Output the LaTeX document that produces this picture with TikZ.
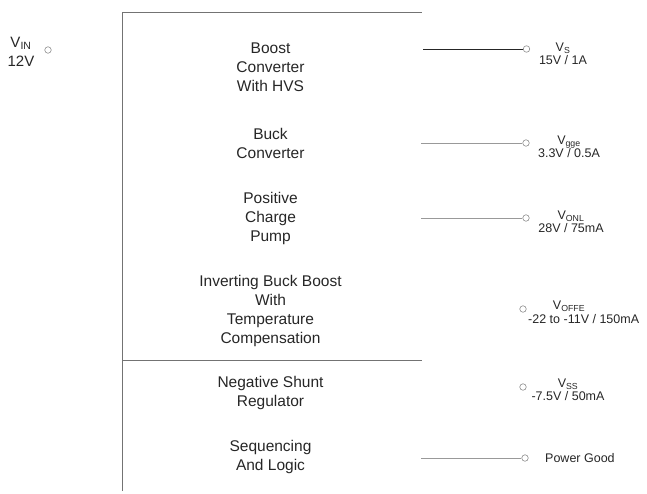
\documentclass[tikz,border=0pt]{standalone}
\usepackage{fontspec}
\setmainfont{Liberation Sans}
\newcommand\mysb[1]{\textsubscript{#1}}
\begin{document}
\begin{tikzpicture}[x=1pt,y=-1pt,
  maintext/.style={align=center, font=\fontsize{15.5}{19}\selectfont, text=black!85, inner sep=0pt},
  outlab/.style={align=center, font=\fontsize{12.5}{13}\selectfont, text=black!85, inner sep=0pt},
  term/.style={circle, draw=black!45, line width=0.6pt, minimum size=6.5pt, inner sep=0pt},
  frameline/.style={draw=black!55, line width=0.8pt},
  outline/.style={draw=black!40, line width=0.8pt},
  darkline/.style={draw=black!85, line width=0.9pt}]
\useasboundingbox (0,0) rectangle (647,493);

% input
\node[align=center, font=\fontsize{15}{19}\selectfont, text=black!85, inner sep=0pt] (vin) at (21,52) {V\mysb{IN}\\12V};
\node[term] (tin) at (48,50) {};

% frame
\coordinate (fbl) at (122,491);
\coordinate (ftl) at (122,12.7);
\coordinate (ftr) at (422,12.7);
\coordinate (fml) at (122,360);
\coordinate (fmr) at (422,360);
\draw[frameline] (fbl) -- (ftl) -- (ftr);
\draw[frameline] (fml) -- (fmr);

% blocks
\node[maintext] (boost) at (270.5,67) {Boost\\Converter\\With HVS};
\node[maintext] (buck) at (270.5,143) {Buck\\Converter};
\node[maintext] (pump) at (270.5,218) {Positive\\Charge\\Pump};
\node[maintext] (inv) at (270.5,311) {Inverting Buck Boost\\With\\Temperature\\Compensation};
\node[maintext] (shunt) at (270.5,393) {Negative Shunt\\Regulator};
\node[maintext] (seq) at (270.5,457) {Sequencing\\And Logic};

% outputs
\coordinate (o1) at (423,49);
\node[term] (t1) at (526.5,49) {};
\draw[darkline] (o1) -- (t1);
\node[outlab] (l1) at (563,53.5) {V\mysb{S}\\15V / 1A};

\coordinate (o2) at (421,143);
\node[term] (t2) at (526,143) {};
\draw[outline] (o2) -- (t2);
\node[outlab] (l2) at (569,146.5) {V\mysb{gge}\\3.3V / 0.5A};

\coordinate (o3) at (421,218);
\node[term] (t3) at (526,218) {};
\draw[outline] (o3) -- (t3);
\node[outlab] (l3) at (571,221.5) {V\mysb{ONL}\\28V / 75mA};

\node[term] (t4) at (523,309) {};
\node[outlab] (l4a) at (569,306) {V\mysb{OFFE}};
\node[outlab, anchor=west] (l4b) at (528,319) {-22 to -11V / 150mA};

\node[term] (t5) at (523,387) {};
\node[outlab] (l5) at (568,389.5) {V\mysb{SS}\\-7.5V / 50mA};

\coordinate (o6) at (421,458);
\node[term] (t6) at (525,458) {};
\draw[outline] (o6) -- (t6);
\node[outlab, anchor=west] (l6) at (545,458) {Power Good};
\end{tikzpicture}
\end{document}
